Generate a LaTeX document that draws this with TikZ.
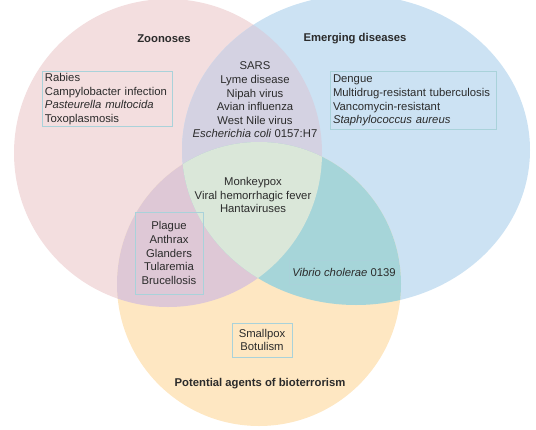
\documentclass[tikz,border=0pt]{standalone}
\usepackage{fontspec}
\setmainfont{Liberation Sans}
\usepackage{xcolor}
\usepackage{tikz}
\usetikzlibrary{positioning}
\definecolor{zoopink}{HTML}{F3DEDF}
\definecolor{emgblue}{HTML}{CCE2F3}
\definecolor{bioyellow}{HTML}{FEE7C2}
\definecolor{zoeblend}{HTML}{D4D2E2}
\definecolor{zobblend}{HTML}{DEC8D6}
\definecolor{ebiblend}{HTML}{A6D5D9}
\definecolor{allblend}{HTML}{DAE7D9}
\definecolor{inktext}{HTML}{2B2B2B}
\definecolor{boxline}{HTML}{A9D2DA}
\newcommand{\listfont}{\fontsize{11.3}{13.6}\selectfont}
\newcommand{\zoocirc}{(168,153) circle [radius=154]}
\newcommand{\emgcirc}{(356,150) ellipse [x radius=174, y radius=155]}
\newcommand{\biocirc}{(259,284) circle [radius=142]}
\tikzset{
  title/.style={font=\listfont\bfseries, text=inktext, inner sep=1pt},
  plain/.style={font=\listfont, text=inktext, align=center, inner sep=1pt},
  listbox/.style={draw=boxline, line width=0.8pt, font=\listfont,
    text=inktext, inner xsep=3pt, inner ysep=2pt},
}
\begin{document}
\begin{tikzpicture}[x=1pt, y=-1pt]
  \useasboundingbox (0,0) rectangle (536,429);
  % sets
  \fill[zoopink] \zoocirc;
  \fill[emgblue] \emgcirc;
  \fill[bioyellow] \biocirc;
  \begin{scope} \clip \zoocirc; \fill[zoeblend] \emgcirc; \end{scope}
  \begin{scope} \clip \zoocirc; \fill[zobblend] \biocirc; \end{scope}
  \begin{scope} \clip \emgcirc; \fill[ebiblend] \biocirc; \end{scope}
  \begin{scope} \clip \zoocirc; \clip \emgcirc; \fill[allblend] \biocirc; \end{scope}

  % titles
  \node[title] (zootitle) at (164,39) {Zoonoses};
  \node[title] (emgtitle) at (355,39) {Emerging diseases};
  \node[title] (biotitle) at (260,384) {Potential agents of bioterrorism};

  % lists
  \node[listbox, align=left, text width=124pt, minimum height=54pt] (zoolist) at (107,99)
    {Rabies\\Campylobacter infection\\\textit{Pasteurella multocida}\\Toxoplasmosis};
  \node[listbox, align=left, text width=160pt, minimum height=58pt] (emglist) at (413,100.5)
    {Dengue\\Multidrug-resistant tuberculosis\\Vancomycin-resistant\\\textit{Staphylococcus aureus}};
  \node[plain] (zoelist) at (255,100)
    {SARS\\Lyme disease\\Nipah virus\\Avian influenza\\West Nile virus\\\textit{Escherichia coli} 0157:H7};
  \node[plain] (alllist) at (253,195)
    {Monkeypox\\Viral hemorrhagic fever\\Hantaviruses};
  \node[listbox, align=center, minimum width=68pt, minimum height=82pt] (zoblist) at (169,253)
    {Plague\\Anthrax\\Glanders\\Tularemia\\Brucellosis};
  \node[listbox, minimum width=108pt, minimum height=24pt] (ebilist) at (344,272)
    {\textit{Vibrio cholerae} 0139};
  \node[listbox, align=center, minimum width=60pt, minimum height=34pt] (biolist) at (262,340)
    {Smallpox\\Botulism};
\end{tikzpicture}
\end{document}
